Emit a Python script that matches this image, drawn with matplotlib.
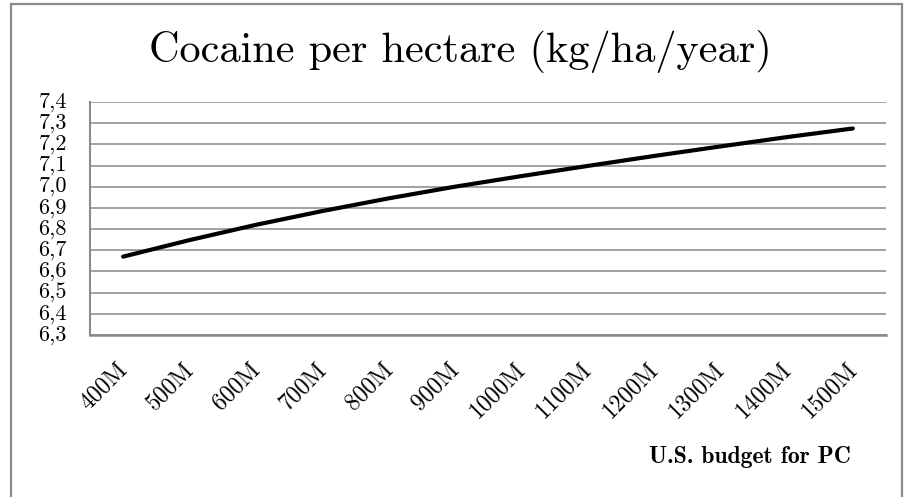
import numpy as np
import matplotlib
matplotlib.use("Agg")
import matplotlib.pyplot as plt
import matplotlib.transforms as mtransforms
from matplotlib.patches import Rectangle

# data
budget = ['400M', '500M', '600M', '700M', '800M', '900M',
          '1000M', '1100M', '1200M', '1300M', '1400M', '1500M']
cocaine = [6.67, 6.748, 6.82, 6.885, 6.945, 7.00,
           7.05, 7.098, 7.145, 7.19, 7.234, 7.275]
yticks = [6.3, 6.4, 6.5, 6.6, 6.7, 6.8, 6.9, 7.0, 7.1, 7.2, 7.3, 7.4]
ylabels = ['6,3', '6,4', '6,5', '6,6', '6,7', '6,8', '6,9',
           '7,0', '7,1', '7,2', '7,3', '7,4']

W, H = 914, 497
fig = plt.figure(figsize=(W / 100, H / 100), dpi=100)
ax = fig.add_axes([90 / W, 1 - 335 / H, (886 - 90) / W, (335 - 102) / H])

x = np.arange(len(budget))
ax.plot(x, cocaine, color='black', lw=3, solid_capstyle='round')

ax.set_xlim(-0.5, len(budget) - 0.5)
ax.set_ylim(6.3, 7.4)
ax.set_yticks(yticks)
ax.set_yticklabels([])
ax.set_xticks(x)
ax.set_xticklabels([])
ax.tick_params(axis='both', length=0)

# y labels: right edge ~23 px left of the plot box
ytrans = mtransforms.blended_transform_factory(ax.transAxes, ax.transData)
yoff = mtransforms.ScaledTranslation(-23 / 100, 0, fig.dpi_scale_trans)
for v, s in zip(yticks, ylabels):
    ax.text(0, v, s, transform=ytrans + yoff, ha='right', va='center',
            fontfamily='cmr10', fontsize=16)

# x labels rotated 45 degrees, anchored at their right end
xtrans = mtransforms.blended_transform_factory(ax.transData, ax.transAxes)
xoff = mtransforms.ScaledTranslation(1 / 100, -31 / 100, fig.dpi_scale_trans)
for i, s in zip(x, budget):
    ax.text(i, 0, s, transform=xtrans + xoff, rotation=45,
            rotation_mode='anchor', ha='right', va='center',
            fontfamily='cmr10', fontsize=17)

ax.grid(axis='y', color='#9a9a9a', lw=1.3)
ax.set_axisbelow(True)
for s in ['top', 'right']:
    ax.spines[s].set_visible(False)
ax.spines['left'].set_color('#8a8a8a')
ax.spines['bottom'].set_color('#8a8a8a')
ax.spines['left'].set_linewidth(1.5)
ax.spines['bottom'].set_linewidth(1.8)

fig.text(460 / W, 1 - 62 / H, 'Cocaine per hectare (kg/ha/year)',
         fontfamily='cmr10', fontsize=30.5, ha='center', va='baseline')
fig.text(750 / W, 1 - 457 / H, 'U.S. budget for PC',
         fontfamily='cmb10', fontsize=17, ha='center', va='center')

# outer chart frame
fig.patches.append(Rectangle((11 / W, -0.05), (902 - 11) / W, 1.05 - 4 / H,
                             transform=fig.transFigure, fill=False,
                             edgecolor='#8a8a8a', lw=1.6))

fig.savefig('out.png', dpi=100)
